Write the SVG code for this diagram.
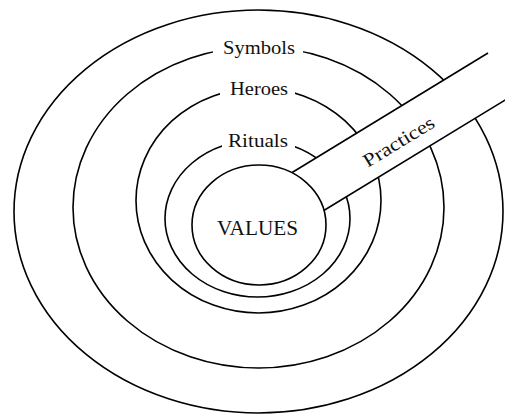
<svg xmlns="http://www.w3.org/2000/svg" width="505" height="414" viewBox="0 0 505 414">
  <style>
    .ring { fill: none; stroke: #000; stroke-width: 1.6; }
    .core { fill: #fff; stroke: #000; stroke-width: 1.6; }
    .gap { fill: #fff; stroke: none; }
    .lbl { font-family: "Liberation Serif", "Times New Roman", serif; font-size: 19px; fill: #111; text-anchor: middle; }
    .edge { stroke: #000; stroke-width: 1.6; fill: none; }
  </style>
  <rect width="505" height="414" fill="#fff"/>
  <g id="outer">
    <ellipse class="ring" cx="258.5" cy="211.5" rx="244.5" ry="201.5"/>
  </g>
  <g id="symbols">
    <ellipse class="ring" cx="258.5" cy="207.5" rx="185.5" ry="160.5"/>
    <rect class="gap" x="213" y="36" width="90" height="24"/>
    <text class="lbl" x="259" y="54" textLength="72" lengthAdjust="spacingAndGlyphs">Symbols</text>
  </g>
  <g id="heroes">
    <ellipse class="ring" cx="258.5" cy="200.5" rx="122.5" ry="112.5"/>
    <rect class="gap" x="220" y="78" width="75" height="22"/>
    <text class="lbl" x="259" y="95" textLength="58" lengthAdjust="spacingAndGlyphs">Heroes</text>
  </g>
  <g id="rituals">
    <ellipse class="ring" cx="257.5" cy="218.5" rx="92.5" ry="78.5"/>
    <rect class="gap" x="222" y="128" width="73" height="24"/>
    <text class="lbl" x="258" y="147" textLength="60" lengthAdjust="spacingAndGlyphs">Rituals</text>
  </g>
  <g id="practices">
    <polygon class="gap" points="270,186 488,53 520,91 300,225"/>
    <line class="edge" x1="270" y1="186" x2="488" y2="53"/>
    <line class="edge" x1="300" y1="225" x2="520" y2="91"/>
    <text class="lbl" x="402" y="147" transform="rotate(-31.4 402 147)" textLength="80" lengthAdjust="spacingAndGlyphs">Practices</text>
  </g>
  <g id="values">
    <ellipse class="core" cx="259" cy="225" rx="67" ry="60"/>
    <text class="lbl" x="257.5" y="235" style="font-size:20px" textLength="81" lengthAdjust="spacingAndGlyphs">VALUES</text>
  </g>
  <g id="connectors"/>
</svg>
